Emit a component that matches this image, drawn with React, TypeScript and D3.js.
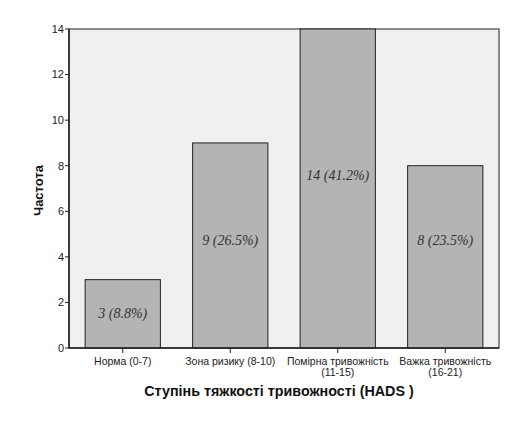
import * as d3 from 'd3';

const categories = [
    ['Норма (0-7)'],
    ['Зона ризику (8-10)'],
    ['Помірна тривожність', '(11-15)'],
    ['Важка тривожність', '(16-21)'],
];
const counts = [3, 9, 14, 8];
const labels = ['3 (8.8%)', '9 (26.5%)', '14 (41.2%)', '8 (23.5%)'];
const yTicks = [0, 2, 4, 6, 8, 10, 12, 14];

const App = () => {
    const margin = { top: 29, right: 30, bottom: 83, left: 69 };
    const W = 529, H = 431;
    const width = W - margin.left - margin.right;
    const height = H - margin.top - margin.bottom;

    const keys = categories.map(c => c.join(' '));
    const x = d3.scaleBand().domain(keys).range([0, width]).paddingInner(0.3).paddingOuter(0.15);
    const y = d3.scaleLinear().domain([0, 14]).range([height, 0]);
    // where the value labels sit inside each bar (in axis units)
    const labelAt = [1.55, 4.75, 7.6, 4.75];

    return (
        <svg width={W} height={H} style={{ position: 'absolute', left: 0, top: 0 }}
            fontFamily="Liberation Sans, Arial, sans-serif">
            <rect width={W} height={H} fill="#fff" />
            <g transform={`translate(${margin.left},${margin.top})`}>
                <rect width={width} height={height} fill="#f0f0f0" stroke="#666" strokeWidth={1.5} />
                {counts.map((v, i) => (
                    <g key={i}>
                        <rect x={x(keys[i])!} y={y(v)} width={x.bandwidth()} height={height - y(v)}
                            fill="#b4b4b4" stroke="#222" strokeWidth={1} />
                        <text x={x(keys[i])! + x.bandwidth() / 2} y={y(labelAt[i])} dy="0.35em"
                            textAnchor="middle" fontFamily="Liberation Serif, serif" fontStyle="italic"
                            fontSize={14} fill="#333">{labels[i]}</text>
                    </g>
                ))}
                {/* axes */}
                <line x1={0} x2={0} y1={0} y2={height} stroke="#222" strokeWidth={1.5} />
                <line x1={0} x2={width} y1={height} y2={height} stroke="#222" strokeWidth={1.5} />
                {yTicks.map(t => (
                    <g key={t} transform={`translate(0,${y(t)})`}>
                        <line x1={-4} x2={0} stroke="#222" />
                        <text x={-5} dy="0.35em" textAnchor="end" fontSize={11} fill="#222">{t}</text>
                    </g>
                ))}
                {categories.map((c, i) => {
                    const cx = x(keys[i])! + x.bandwidth() / 2;
                    return (
                        <g key={i} transform={`translate(${cx},${height})`}>
                            <line y1={0} y2={5} stroke="#222" />
                            {c.map((line, j) => (
                                <text key={j} y={16.5 + j * 11.5} textAnchor="middle" fontSize={10.5} fill="#222">{line}</text>
                            ))}
                        </g>
                    );
                })}
                <text x={width / 2 - 5} y={height + 48} textAnchor="middle" fontSize={14.3} fontWeight="bold" fill="#111">
                    Ступінь тяжкості тривожності (HADS )
                </text>
                <text transform={`translate(${-26},${height / 2 + 2}) rotate(-90)`} textAnchor="middle"
                    fontSize={13} fontWeight="bold" fill="#111">Частота</text>
            </g>
        </svg>
    );
};

export default App;
